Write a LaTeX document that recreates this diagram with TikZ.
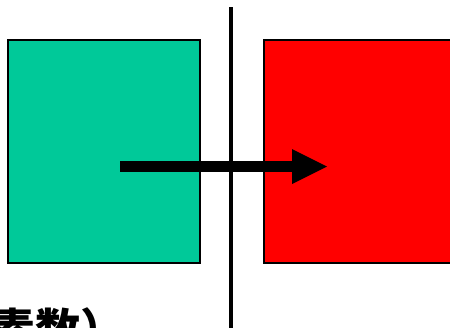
\documentclass[tikz,border=0pt]{standalone}
\usepackage{fontspec}
\newfontfamily\cjk{Noto Sans CJK JP}
\begin{document}
\begin{tikzpicture}[x=1pt,y=-1pt,
  box/.style={draw=black,line width=1.6pt,minimum width=192pt,minimum height=223pt,anchor=north west,inner sep=0pt},
  bar/.style={line width=4pt,black}]
\useasboundingbox (0,0) rectangle (450,327);
\clip (0,0) rectangle (450,327);
\fill[white] (0,0) rectangle (450,327);
\node[box,fill={rgb,255:red,0;green,201;blue,153}] (g) at (7,39) {};
\node[box,fill={rgb,255:red,255;green,0;blue,0},minimum width=200pt] (r) at (263,39) {};
\coordinate (s) at (120,166.5);
\coordinate (e) at (327,166.5);
\draw[line width=11pt,black] (s) -- (292,166.5);
\fill[black] (292,149) -- (e) -- (292,184) -- cycle;
\coordinate (t) at (231,7);
\coordinate (b) at (231,330);
\draw[bar] (t) -- (b);
\node[anchor=base west,inner sep=0pt,font=\cjk\bfseries\fontsize{45pt}{45pt}\selectfont] (lbl) at (-100,346) {（複素数）};
\end{tikzpicture}
\end{document}
